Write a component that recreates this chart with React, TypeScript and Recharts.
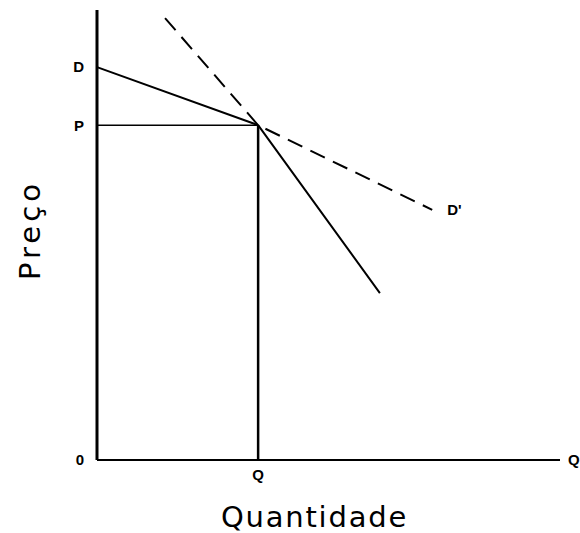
import {
  ComposedChart,
  Line,
  XAxis,
  YAxis,
  ReferenceDot,
} from 'recharts';

// curve points (quantity, price) in a 0..100 space
const demandD = [
  { x: 0, y: 87.3 },
  { x: 34.8, y: 74.4 },
  { x: 61.1, y: 37.1 },
];
const demandDPrime = [
  { x: 14.7, y: 98.2 },
  { x: 34.8, y: 74.4 },
  { x: 72.4, y: 55.6 },
];
const priceLine = [
  { x: 0, y: 74.4 },
  { x: 34.8, y: 74.4 },
];
const quantityLine = [
  { x: 34.8, y: 0 },
  { x: 34.8, y: 74.4 },
];

const yTicks = [0, 74.4, 87.3];
const yTickLabels = ['0', 'P', 'D'];
const xTicks = [34.8];
const xTickLabels = ['Q'];

const tickStyle = { fill: '#000', fontSize: 15, fontWeight: 700, fontFamily: 'Liberation Sans, Arial, sans-serif' };
const titleStyle = { fill: '#000', fontSize: 29, fontFamily: 'DejaVu Sans, sans-serif', letterSpacing: 1.8 };
const yTitleStyle = { ...titleStyle, letterSpacing: 4 };

export default function App() {
  return (
    <div style={{ position: 'absolute', left: 0, top: 0, background: '#fff' }}>
      <ComposedChart width={580} height={533} margin={{ top: 10, right: 20, bottom: 0, left: 0 }}>
        <XAxis
          type="number"
          dataKey="x"
          domain={[0, 100]}
          ticks={xTicks}
          tickFormatter={(v) => xTickLabels[xTicks.indexOf(v)] ?? ''}
          tick={tickStyle}
          tickLine={false}
          tickSize={0}
          tickMargin={9}
          height={73}
          axisLine={{ stroke: '#000', strokeWidth: 2 }}
          label={{ value: 'Quantidade', position: 'center', dx: -14, dy: 20, style: titleStyle }}
        />
        <YAxis
          type="number"
          domain={[0, 100]}
          ticks={yTicks}
          tickFormatter={(v) => yTickLabels[yTicks.indexOf(v)] ?? ''}
          tick={tickStyle}
          tickLine={false}
          tickSize={0}
          tickMargin={13}
          width={97}
          axisLine={{ stroke: '#000', strokeWidth: 3 }}
          label={{ value: 'Preço', angle: -90, position: 'center', dx: -19, dy: -5, style: yTitleStyle }}
        />
        <Line data={priceLine} dataKey="y" stroke="#000" strokeWidth={1.5} dot={false} activeDot={false} isAnimationActive={false} />
        <Line data={quantityLine} dataKey="y" stroke="#000" strokeWidth={2.5} dot={false} activeDot={false} isAnimationActive={false} />
        <Line data={demandDPrime} dataKey="y" stroke="#000" strokeWidth={2} strokeDasharray="16 9" dot={false} activeDot={false} isAnimationActive={false} />
        <Line data={demandD} dataKey="y" stroke="#000" strokeWidth={2} dot={false} activeDot={false} isAnimationActive={false} />
        <ReferenceDot
          x={72.4}
          y={55.6}
          r={0}
          fill="none"
          stroke="none"
          ifOverflow="visible"
          label={{ value: "D'", position: 'right', offset: 15, style: tickStyle }}
        />
        <ReferenceDot
          x={100}
          y={0}
          r={0}
          fill="none"
          stroke="none"
          ifOverflow="visible"
          label={{ value: 'Q', position: 'right', offset: 8, style: tickStyle }}
        />
      </ComposedChart>
    </div>
  );
}
